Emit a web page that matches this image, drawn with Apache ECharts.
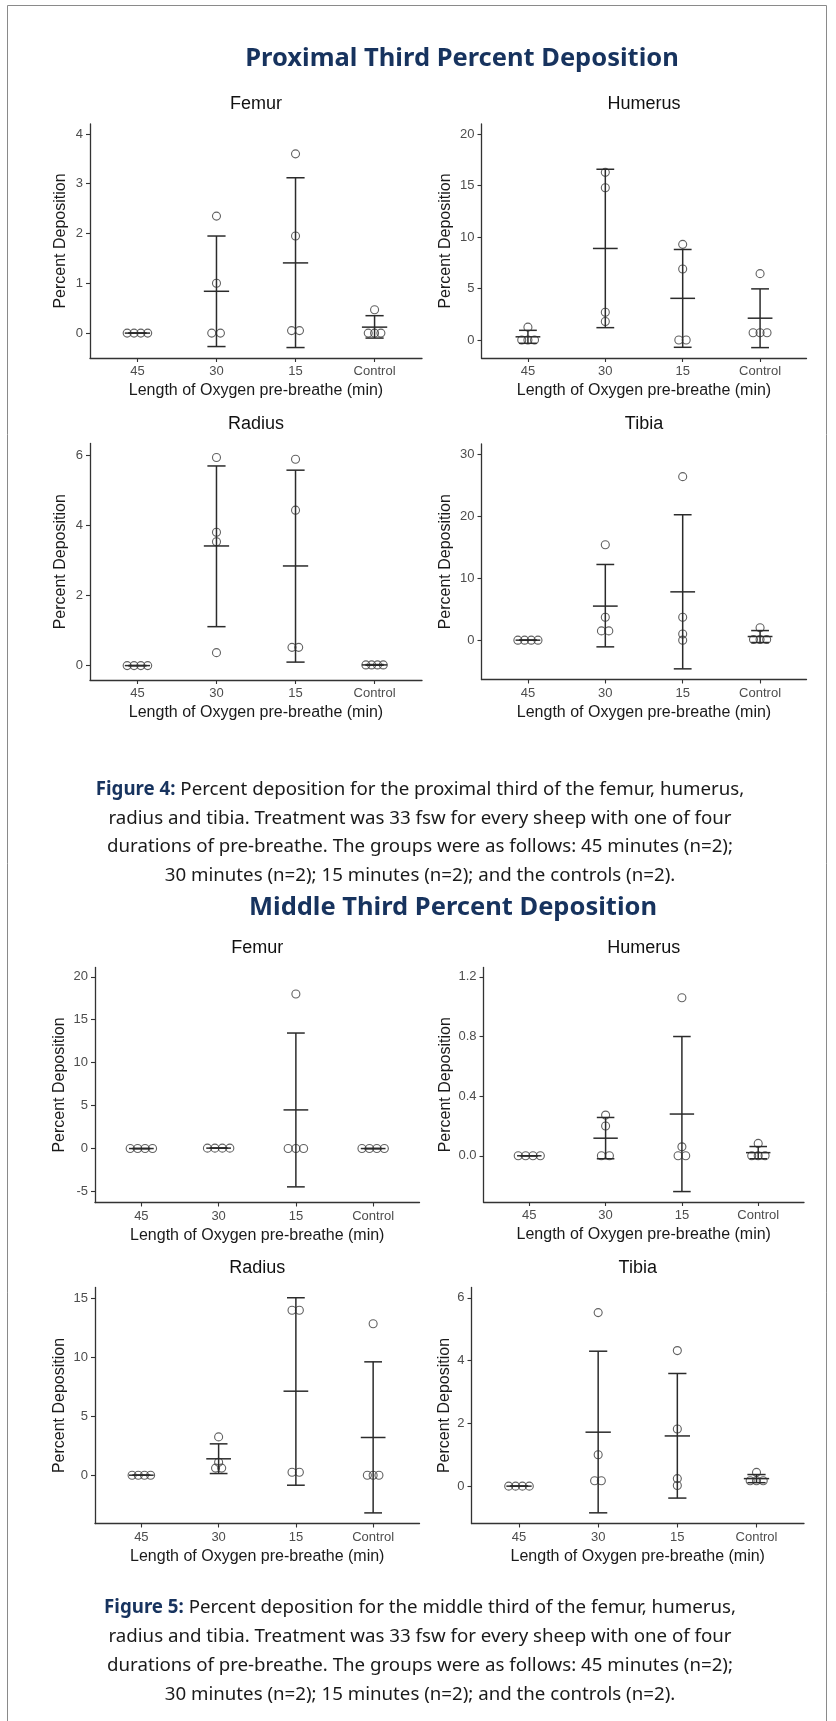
<!DOCTYPE html>
<html><head><meta charset="utf-8">
<script src="https://cdn.jsdelivr.net/npm/echarts@6/dist/echarts.min.js"></script>
<style>html,body{margin:0;padding:0;background:#fff;}#c{width:836px;height:1721px;}</style>
</head><body><div id="c"></div>
<script>
// ---------- DATA ----------
const categories = ['45', '30', '15', 'Control'];
const xAxisTitle = 'Length of Oxygen pre-breathe (min)';
const yAxisTitle = 'Percent Deposition';
const figTitles = ['Proximal Third Percent Deposition', 'Middle Third Percent Deposition'];
const panelNames = ['Femur', 'Humerus', 'Radius', 'Tibia'];

// Proximal third
const pFemurValues   = [[0,0,0,0],[2.35,1.0,0,0],[3.6,1.95,0.05,0.05],[0.47,0,0,0]];
const pFemurJitter   = [[-0.13,-0.043,0.043,0.13],[0,0,-0.06,0.05],[0,0,-0.05,0.05],[0,-0.08,0,0.08]];
const pFemurMean     = [0, 0.84, 1.41, 0.12];
const pFemurLow      = [0, -0.27, -0.29, -0.10];
const pFemurHigh     = [0, 1.95, 3.12, 0.35];
const pFemurTicks    = [0, 1, 2, 3, 4];
const pFemurTickLabels = ['0','1','2','3','4'];
const pFemurRange    = [-0.5, 4.2];

const pHumerusValues = [[1.25,0,0,0],[16.3,14.8,2.7,1.8],[9.3,6.9,0,0],[6.45,0.7,0.7,0.7]];
const pHumerusJitter = [[0,-0.08,0,0.085],[0,0,0,0],[0,0,-0.05,0.045],[0,-0.09,0,0.09]];
const pHumerusMean   = [0.31, 8.9, 4.05, 2.12];
const pHumerusLow    = [-0.32, 1.2, -0.71, -0.74];
const pHumerusHigh   = [0.94, 16.6, 8.8, 4.97];
const pHumerusTicks  = [0, 5, 10, 15, 20];
const pHumerusTickLabels = ['0','5','10','15','20'];
const pHumerusRange  = [-1.75, 21];

const pRadiusValues  = [[0,0,0,0],[5.93,3.8,3.53,0.37],[5.88,4.43,0.52,0.52],[0.02,0.02,0.02,0.02]];
const pRadiusJitter  = [[-0.13,-0.043,0.043,0.13],[0,0,0,0],[0,0,-0.045,0.04],[-0.11,-0.037,0.037,0.11]];
const pRadiusMean    = [0, 3.41, 2.84, 0.02];
const pRadiusLow     = [0, 1.11, 0.10, 0.01];
const pRadiusHigh    = [0, 5.69, 5.57, 0.03];
const pRadiusTicks   = [0, 2, 4, 6];
const pRadiusTickLabels = ['0','2','4','6'];
const pRadiusRange   = [-0.41, 6.33];

const pTibiaValues   = [[0,0,0,0],[15.4,3.7,1.5,1.5],[26.4,3.7,1.0,0],[2.0,0.1,0.1,0.1]];
const pTibiaJitter   = [[-0.13,-0.043,0.043,0.13],[0,0,-0.05,0.045],[0,0,0,0],[0,-0.085,0,0.085]];
const pTibiaMean     = [0, 5.5, 7.8, 0.59];
const pTibiaLow      = [0, -1.08, -4.63, -0.38];
const pTibiaHigh     = [0, 12.22, 20.25, 1.55];
const pTibiaTicks    = [0, 10, 20, 30];
const pTibiaTickLabels = ['0','10','20','30'];
const pTibiaRange    = [-6.35, 31.67];

// Middle third
const mFemurValues   = [[0,0,0,0],[0.05,0.05,0.05,0.05],[18,0,0,0],[0,0,0,0]];
const mFemurJitter   = [[-0.145,-0.048,0.048,0.145],[-0.145,-0.048,0.048,0.145],[0,-0.1,0,0.1],[-0.145,-0.048,0.048,0.145]];
const mFemurMean     = [0, 0.05, 4.5, 0];
const mFemurLow      = [0, 0.05, -4.46, 0];
const mFemurHigh     = [0, 0.05, 13.45, 0];
const mFemurTicks    = [-5, 0, 5, 10, 15, 20];
const mFemurTickLabels = ['-5','0','5','10','15','20'];
const mFemurRange    = [-6.28, 21.08];

const mHumerusValues = [[0,0,0,0],[0.273,0.2,0,0],[1.06,0.06,0,0],[0.083,0,0,0]];
const mHumerusJitter = [[-0.145,-0.048,0.048,0.145],[0,0,-0.055,0.05],[0,0,-0.05,0.05],[0,-0.085,0,0.09]];
const mHumerusMean   = [0, 0.118, 0.28, 0.021];
const mHumerusLow    = [0, -0.02, -0.24, -0.02];
const mHumerusHigh   = [0, 0.257, 0.80, 0.062];
const mHumerusTicks  = [0, 0.4, 0.8, 1.2];
const mHumerusTickLabels = ['0.0','0.4','0.8','1.2'];
const mHumerusRange  = [-0.31, 1.263];

const mRadiusValues  = [[0,0,0,0],[3.25,1.1,0.6,0.6],[14.0,14.0,0.25,0.25],[12.85,0,0,0]];
const mRadiusJitter  = [[-0.12,-0.04,0.04,0.12],[0,0,-0.04,0.04],[-0.05,0.045,-0.05,0.045],[0,-0.075,0,0.075]];
const mRadiusMean    = [0, 1.39, 7.13, 3.2];
const mRadiusLow     = [0, 0.14, -0.85, -3.2];
const mRadiusHigh    = [0, 2.66, 15.06, 9.62];
const mRadiusTicks   = [0, 5, 10, 15];
const mRadiusTickLabels = ['0','5','10','15'];
const mRadiusRange   = [-4.1, 15.93];

const mTibiaValues   = [[0,0,0,0],[5.53,1.0,0.17,0.17],[4.32,1.82,0.24,0.02],[0.44,0.17,0.17,0.17]];
const mTibiaJitter   = [[-0.13,-0.043,0.043,0.13],[0,0,-0.045,0.04],[0,0,0,0],[0,-0.08,0,0.085]];
const mTibiaMean     = [0, 1.72, 1.6, 0.24];
const mTibiaLow      = [0, -0.85, -0.38, 0.11];
const mTibiaHigh     = [0, 4.3, 3.59, 0.37];
const mTibiaTicks    = [0, 2, 4, 6];
const mTibiaTickLabels = ['0','2','4','6'];
const mTibiaRange    = [-1.19, 6.33];

const captionLines = [
  ['Figure 4:', ' Percent deposition for the proximal third of the femur, humerus,'],
  ['', 'radius and tibia. Treatment was 33 fsw for every sheep with one of four'],
  ['', 'durations of pre-breathe. The groups were as follows: 45 minutes (n=2);'],
  ['', '30 minutes (n=2); 15 minutes (n=2); and the controls (n=2).']
];
const caption5Lines = [
  ['Figure 5:', ' Percent deposition for the middle third of the femur, humerus,'],
  ['', 'radius and tibia. Treatment was 33 fsw for every sheep with one of four'],
  ['', 'durations of pre-breathe. The groups were as follows: 45 minutes (n=2);'],
  ['', '30 minutes (n=2); 15 minutes (n=2); and the controls (n=2).']
];

// ---------- LAYOUT ----------
const layouts = [
  {left: 90,    top: 124,   width: 332, height: 234, nameGap: 21},
  {left: 481.5, top: 124,   width: 325, height: 234, nameGap: 27.5},
  {left: 90,    top: 443.5, width: 332, height: 236.5, nameGap: 21},
  {left: 481.5, top: 444,   width: 325, height: 235.5, nameGap: 27.5},
  {left: 95,    top: 967.5, width: 324.5, height: 235, nameGap: 27.5},
  {left: 483.5, top: 967.5, width: 320.5, height: 234.5, nameGap: 30},
  {left: 95,    top: 1287.5, width: 324.5, height: 236, nameGap: 27.5},
  {left: 471.5, top: 1287.5, width: 332.5, height: 236, nameGap: 18.5}
];

const panels = [
  [pFemurValues, pFemurJitter, pFemurMean, pFemurLow, pFemurHigh, pFemurTicks, pFemurTickLabels, pFemurRange],
  [pHumerusValues, pHumerusJitter, pHumerusMean, pHumerusLow, pHumerusHigh, pHumerusTicks, pHumerusTickLabels, pHumerusRange],
  [pRadiusValues, pRadiusJitter, pRadiusMean, pRadiusLow, pRadiusHigh, pRadiusTicks, pRadiusTickLabels, pRadiusRange],
  [pTibiaValues, pTibiaJitter, pTibiaMean, pTibiaLow, pTibiaHigh, pTibiaTicks, pTibiaTickLabels, pTibiaRange],
  [mFemurValues, mFemurJitter, mFemurMean, mFemurLow, mFemurHigh, mFemurTicks, mFemurTickLabels, mFemurRange],
  [mHumerusValues, mHumerusJitter, mHumerusMean, mHumerusLow, mHumerusHigh, mHumerusTicks, mHumerusTickLabels, mHumerusRange],
  [mRadiusValues, mRadiusJitter, mRadiusMean, mRadiusLow, mRadiusHigh, mRadiusTicks, mRadiusTickLabels, mRadiusRange],
  [mTibiaValues, mTibiaJitter, mTibiaMean, mTibiaLow, mTibiaHigh, mTibiaTicks, mTibiaTickLabels, mTibiaRange]
];

const AX = '#333333';
const LBL = '#4d4d4d';
const FONT = '"Liberation Sans", Arial, sans-serif';
const CAPFONT = '"Noto Sans", "Open Sans", sans-serif';
const NAVY = '#17335e';
const CAP_HALF = 0.115, MEAN_HALF = 0.16;

const grids = [], xAxes = [], yAxes = [], series = [], graphics = [];

panels.forEach((p, i) => {
  const [vals, jit, mean, lo, hi, ticks, tickLabels, range] = p;
  const L = layouts[i];
  grids.push({left: L.left, top: L.top, width: L.width, height: L.height, containLabel: false, outerBoundsMode: 'none'});
  xAxes.push({
    type: 'value', gridIndex: i, min: 0.4, max: 4.6,
    name: xAxisTitle, nameLocation: 'middle', nameGap: 25,
    nameTextStyle: {fontFamily: FONT, fontSize: 16, color: '#1a1a1a'},
    splitLine: {show: false},
    axisLine: {show: true, onZero: false, lineStyle: {color: AX, width: 1.3}},
    axisTick: {show: true, customValues: [1, 2, 3, 4], length: 4, lineStyle: {color: AX, width: 1.1}},
    axisLabel: {show: true, customValues: [1, 2, 3, 4], margin: 7, fontFamily: FONT, fontSize: 13, color: LBL,
      formatter: v => categories[Math.round(v) - 1] || ''}
  });
  yAxes.push({
    type: 'value', gridIndex: i, min: range[0], max: range[1],
    name: yAxisTitle, nameLocation: 'middle', nameGap: L.nameGap, nameRotate: 90,
    nameTextStyle: {fontFamily: FONT, fontSize: 16, color: '#1a1a1a'},
    splitLine: {show: false},
    axisLine: {show: true, onZero: false, lineStyle: {color: AX, width: 1.3}},
    axisTick: {show: true, customValues: ticks, length: 4, lineStyle: {color: AX, width: 1.1}},
    axisLabel: {show: true, customValues: ticks, margin: 7, fontFamily: FONT, fontSize: 13, color: LBL,
      formatter: v => { const k = ticks.findIndex(t => Math.abs(t - v) < 1e-9); return k >= 0 ? tickLabels[k] : ''; }}
  });
  const pts = [];
  vals.forEach((grp, g) => grp.forEach((v, k) => pts.push([g + 1 + jit[g][k], v])));
  series.push({
    type: 'scatter', xAxisIndex: i, yAxisIndex: i, data: pts, symbol: 'circle', symbolSize: 8,
    itemStyle: {color: 'rgba(255,255,255,0)', borderColor: '#3a3a3a', borderWidth: 1.1},
    silent: true, animation: false, z: 2
  });
  const stats = mean.map((m, g) => [g + 1, m, lo[g], hi[g]]);
  series.push({
    type: 'custom', xAxisIndex: i, yAxisIndex: i, data: stats, encode: {x: 0, y: [1, 2, 3]},
    silent: true, animation: false, z: 3, clip: false,
    renderItem: (params, api) => {
      const x = api.value(0), m = api.value(1), l = api.value(2), h = api.value(3);
      const pl = api.coord([x, l]), ph = api.coord([x, h]), pm = api.coord([x, m]);
      const cl = api.coord([x - CAP_HALF, l])[0], cr = api.coord([x + CAP_HALF, l])[0];
      const ml = api.coord([x - MEAN_HALF, m])[0], mr = api.coord([x + MEAN_HALF, m])[0];
      const st = {stroke: '#2b2b2b', lineWidth: 1.5, fill: null};
      return {type: 'group', children: [
        {type: 'line', shape: {x1: pl[0], y1: pl[1], x2: ph[0], y2: ph[1]}, style: st},
        {type: 'line', shape: {x1: cl, y1: pl[1], x2: cr, y2: pl[1]}, style: st},
        {type: 'line', shape: {x1: cl, y1: ph[1], x2: cr, y2: ph[1]}, style: st},
        {type: 'line', shape: {x1: ml, y1: pm[1], x2: mr, y2: pm[1]}, style: st}
      ]};
    }
  });
  // panel title
  graphics.push({type: 'text', x: L.left + L.width / 2, y: L.top - 19.5, silent: true,
    style: {text: panelNames[i % 4], fontFamily: FONT, fontSize: 18, fill: '#111', align: 'center', verticalAlign: 'middle'}});
});

// figure titles
graphics.push({type: 'text', x: 462, y: 58.5, silent: true,
  style: {text: figTitles[0], fontFamily: CAPFONT, fontWeight: 'bold', fontSize: 25.5, fill: NAVY, align: 'center', verticalAlign: 'middle'}});
graphics.push({type: 'text', x: 453, y: 908, silent: true,
  style: {text: figTitles[1], fontFamily: CAPFONT, fontWeight: 'bold', fontSize: 25.5, fill: NAVY, align: 'center', verticalAlign: 'middle'}});

const CAP_SIZE = 18.7;
function captionText(lines) {
  return lines.map(([b, t]) => (b ? '{b|' + b + '}' : '') + '{n|' + t + '}').join('\n');
}
function richFor(lh) {
  return {
    b: {fontFamily: CAPFONT, fontWeight: 'bold', fontSize: CAP_SIZE, fill: NAVY, lineHeight: lh},
    n: {fontFamily: CAPFONT, fontSize: CAP_SIZE, fill: '#1a1a1a', lineHeight: lh}
  };
}
const LH4 = 28.5, LH5 = 29;
graphics.push({type: 'text', x: 420, y: 790 - LH4 / 2, silent: true,
  style: {text: captionText(captionLines), rich: richFor(LH4), align: 'center', verticalAlign: 'top', lineHeight: LH4, fontSize: CAP_SIZE, fontFamily: CAPFONT}});
graphics.push({type: 'text', x: 420, y: 1608 - LH5 / 2, silent: true,
  style: {text: captionText(caption5Lines), rich: richFor(LH5), align: 'center', verticalAlign: 'top', lineHeight: LH5, fontSize: CAP_SIZE, fontFamily: CAPFONT}});

// page frame
graphics.push({type: 'rect', silent: true, shape: {x: 7.5, y: 5.5, width: 819, height: 1740},
  style: {fill: null, stroke: '#8a8a8a', lineWidth: 1}});

const chart = echarts.init(document.getElementById('c'), null, {renderer: 'canvas', width: 836, height: 1721});
chart.setOption({
  animation: false,
  backgroundColor: '#ffffff',
  grid: grids, xAxis: xAxes, yAxis: yAxes, series: series,
  graphic: {elements: graphics}
});
</script></body></html>
